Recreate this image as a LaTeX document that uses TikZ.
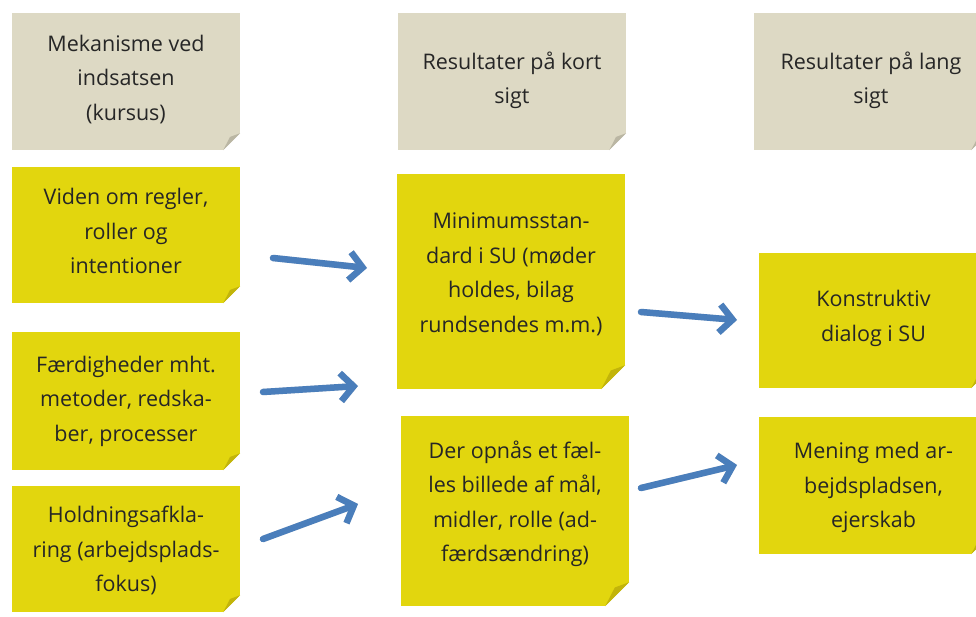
\documentclass[tikz,border=0pt]{standalone}
\usepackage{fontspec}
\setmainfont{Open Sans}
\usetikzlibrary{arrows.meta, positioning, calc}
\definecolor{hdrfill}{HTML}{DDD9C4}
\definecolor{hdrfold}{HTML}{BAB6A3}
\definecolor{notefill}{HTML}{E2D60E}
\definecolor{notefold}{HTML}{C2B40A}
\definecolor{arrblue}{HTML}{4A7EBB}

% dog-ear in the lower right corner of a note
\newcommand{\dogear}[3]{%
  \fill[white] (#1.south east) -- ([yshift=#3]#1.south east) -- ([xshift=-#3]#1.south east) -- cycle;
  \fill[#2] ([yshift=#3]#1.south east) -- ([xshift=-#3]#1.south east)
    -- ([xshift=-0.6*#3, yshift=0.78*#3]#1.south east) -- cycle;
}

\begin{document}
\begin{tikzpicture}[x=1pt, y=-1pt,
  every node/.style={rectangle, inner sep=0pt, align=center,
    font=\fontsize{21.5}{34.5}\selectfont, text=black!85, text depth=8pt},
  hdr/.style={fill=hdrfill, minimum width=228pt, minimum height=137pt},
  note/.style={fill=notefill, minimum width=228pt},
  arr/.style={-{Straight Barb[length=13pt, width=28pt]}, line width=6.5pt, arrblue, line cap=round},
  arrshadow/.style={arr, black, opacity=0.12, shift={(2,4)}}
]
\clip (0,0) rectangle (976,617);

% headers
\node[hdr] (hmek) at (126,81.5) {Mekanisme ved\\indsatsen\\(kursus)};
\node[hdr] (hkort) at (512,81.5) {Resultater på kort\\sigt};
\node[hdr, minimum width=234pt] (hlang) at (871,81.5) {Resultater på lang\\sigt};

% left column
\node[note, minimum height=136pt] (viden) at (126,235) {Viden om regler,\\roller og\\intentioner};
\node[note, minimum height=138pt, text depth=5pt] (faerd) at (126,401) {Færdigheder mht.\\metoder, redska-\\ber, processer};
\node[note, minimum height=126pt, text depth=-6pt] (hold) at (126,549) {Holdningsafkla-\\ring (arbejdsplads-\\fokus)};

% middle column
\node[note, minimum height=215pt, text depth=18pt] (minim) at (511,281.5) {Minimumsstan-\\dard i SU (møder\\holdes, bilag\\rundsendes m.m.)};
\node[note, minimum height=190pt, text depth=20pt] (faelles) at (515,511) {Der opnås et fæl-\\les billede af mål,\\midler, rolle (ad-\\færdsændring)};

% right column
\node[note, minimum width=229pt, minimum height=135pt, text depth=9pt] (konstr) at (873.5,320.5) {Konstruktiv\\dialog i SU};
\node[note, minimum width=229pt, minimum height=137pt, text depth=1pt] (mening) at (873.5,485.5) {Mening med ar-\\bejdspladsen,\\ejerskab};

\foreach \n in {hmek,hkort,hlang} \dogear{\n}{hdrfold}{17pt};
\foreach \n in {viden,faerd,hold,konstr,mening} \dogear{\n}{notefold}{17pt};
\foreach \n in {minim,faelles} \dogear{\n}{notefold}{24pt};

% arrows
\coordinate (v1) at (273,258); \coordinate (m1) at (367,268);
\coordinate (v2) at (263,392); \coordinate (m2) at (358,386);
\coordinate (v3) at (263,539); \coordinate (m3) at (358,504);
\coordinate (k1) at (641,312); \coordinate (l1) at (737,320);
\coordinate (k2) at (641,488); \coordinate (l2) at (737,465);
\foreach \a/\b in {v1/m1, v2/m2, v3/m3, k1/l1, k2/l2} {
  \draw[arrshadow] (\a) -- (\b);
  \draw[arr] (\a) -- (\b);
}
\end{tikzpicture}
\end{document}
